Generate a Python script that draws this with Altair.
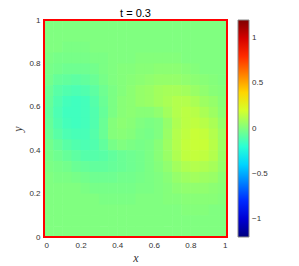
import altair as alt
import pandas as pd

# grid cell centres of the field
x_grid = [0.025, 0.075, 0.125, 0.175, 0.225, 0.275, 0.325, 0.375, 0.425, 0.475,
          0.525, 0.575, 0.625, 0.675, 0.725, 0.775, 0.825, 0.875, 0.925, 0.975]
y_grid = [0.975, 0.925, 0.875, 0.825, 0.775, 0.725, 0.675, 0.625, 0.575, 0.525,
          0.475, 0.425, 0.375, 0.325, 0.275, 0.225, 0.175, 0.125, 0.075, 0.025]

# field values in hundredths, rows from top (y=0.975) to bottom (y=0.025)
u_hundredths = [
    [0, 0, 0, 0, 0, 0, 0, 0, 0, 0, 0, 0, 0, 0, 0, 0, 0, 0, 0, 0],
    [0, 0, 0, 0, 0, 0, 0, 0, 0, 0, 0, 0, 0, 0, 0, 0, 0, 0, 0, 0],
    [0, 0, -1, -1, -1, 0, 0, 0, 0, 0, 0, 0, 0, 0, 0, 0, 0, 0, 0, 0],
    [-1, -2, -2, -2, -2, -1, -1, 0, 0, 0, 1, 1, 1, 1, 1, 0, 0, 0, 0, 0],
    [-2, -3, -4, -4, -4, -3, -1, 0, 1, 1, 2, 2, 3, 3, 3, 2, 1, 0, 0, 0],
    [-3, -6, -7, -8, -7, -5, -2, 0, 1, 2, 3, 4, 5, 5, 5, 4, 3, 2, 1, 0],
    [-5, -9, -11, -12, -11, -8, -4, -1, 1, 3, 5, 6, 8, 9, 9, 8, 6, 4, 2, 1],
    [-6, -11, -14, -15, -14, -10, -5, -1, 2, 3, 5, 6, 8, 10, 12, 12, 10, 7, 5, 2],
    [-7, -12, -15, -15, -14, -11, -6, -1, 2, 3, 2, 2, 4, 8, 12, 14, 13, 10, 7, 3],
    [-6, -11, -14, -15, -14, -11, -5, 1, 3, 2, 0, -1, 0, 5, 11, 14, 15, 13, 10, 5],
    [-5, -9, -12, -13, -13, -10, -5, 1, 2, 1, -1, -2, 0, 6, 12, 15, 17, 16, 12, 7],
    [-3, -6, -9, -11, -12, -11, -7, -2, 0, -1, -2, -1, 2, 7, 12, 16, 17, 17, 13, 7],
    [-2, -4, -6, -8, -10, -10, -9, -7, -5, -4, -3, -1, 2, 6, 11, 15, 16, 15, 12, 6],
    [-1, -2, -3, -5, -6, -7, -7, -6, -5, -4, -3, -1, 1, 4, 8, 11, 12, 11, 9, 5],
    [0, -1, -1, -2, -3, -4, -4, -4, -3, -3, -2, -1, 0, 2, 5, 7, 8, 7, 6, 3],
    [0, 0, 0, 0, -1, -2, -2, -2, -2, -2, -1, -1, 0, 1, 3, 4, 4, 4, 3, 2],
    [0, 0, 0, 0, 0, 0, -1, -1, -1, -1, 0, 0, 0, 1, 1, 2, 2, 2, 2, 1],
    [0, 0, 0, 0, 0, 0, 0, 0, 0, 0, 0, 0, 0, 0, 0, 1, 1, 1, 0, 0],
    [0, 0, 0, 0, 0, 0, 0, 0, 0, 0, 0, 0, 0, 0, 0, 0, 0, 0, 0, 0],
    [0, 0, 0, 0, 0, 0, 0, 0, 0, 0, 0, 0, 0, 0, 0, 0, 0, 0, 0, 0],
]

# the square domain whose boundary is drawn in red
domain_x = [0, 1]
domain_y = [0, 1]

axis_ticks = [0, 0.2, 0.4, 0.6, 0.8, 1]
cbar_ticks = [-1, -0.5, 0, 0.5, 1]
color_domain = [-1.2, -0.9, -0.3, 0.3, 0.9, 1.2]
jet_colors = ["#00007f", "#0000ff", "#00ffff", "#ffff00", "#ff0000", "#7f0000"]
title_text = "t = 0.3"
cell = 0.05

records = []
for j, yv in enumerate(y_grid):
    for i, xv in enumerate(x_grid):
        records.append({"x": xv, "y": yv, "u": u_hundredths[j][i] / 100.0})
df = pd.DataFrame(records)
border_df = pd.DataFrame({"x0": [domain_x[0]], "x1": [domain_x[1]],
                          "y0": [domain_y[0]], "y1": [domain_y[1]]})

half = cell / 2
overlap = 0.003  # tiny overlap so anti-aliased seams between cells disappear
jet = alt.Scale(domain=color_domain, range=jet_colors, interpolate="rgb")
pos_scale = alt.Scale(domain=domain_x, nice=False, zero=False, clamp=True)

axis_common = dict(
    values=axis_ticks, format="~g", ticks=False, domain=False, grid=False,
    labelOverlap=False, labelFont="Liberation Sans", labelFontSize=8,
    labelColor="#333333", labelPadding=4, titleFont="Liberation Serif",
    titleFontStyle="italic", titleFontWeight="normal", titleFontSize=12,
    titleColor="#333333",
)
x_axis = alt.Axis(title="x", titlePadding=3, **axis_common)
y_axis = alt.Axis(title="y", titlePadding=4, **axis_common)

field = alt.Chart(df).transform_calculate(
    x0=f"datum.x - {half}", x1=f"datum.x + {half + overlap}",
    y0=f"datum.y - {half + overlap}", y1=f"datum.y + {half}",
).mark_rect().encode(
    x=alt.X("x0:Q", scale=pos_scale, axis=x_axis),
    x2="x1:Q",
    y=alt.Y("y0:Q", scale=pos_scale, axis=y_axis),
    y2="y1:Q",
    color=alt.Color("u:Q", scale=jet, legend=alt.Legend(
        type="gradient", orient="none", legendX=194, legendY=0, values=cbar_ticks,
        format="~g", title=None, direction="vertical", gradientLength=217,
        gradientThickness=11, gradientStrokeColor="#888888", gradientStrokeWidth=1,
        padding=0, labelFont="Liberation Sans", labelFontSize=8,
        labelColor="#333333", labelOffset=3,
    )),
)

border = alt.Chart(border_df).mark_rect(
    fillOpacity=0, stroke="#ff0000", strokeWidth=2
).encode(
    x=alt.X("x0:Q", scale=pos_scale, axis=x_axis),
    x2="x1:Q",
    y=alt.Y("y0:Q", scale=pos_scale, axis=y_axis),
    y2="y1:Q",
)

chart = alt.layer(field, border).properties(
    width=183, height=217,
    title=alt.TitleParams(text=title_text, font="Liberation Sans", fontSize=11,
                          fontWeight="normal", color="black", offset=-3, anchor="middle"),
    autosize=alt.AutoSizeParams(type="none"),
    padding={"left": 36, "top": 12, "right": 50, "bottom": 27},
).configure_view(strokeWidth=0)

chart.save("out.html", embed_options={"renderer": "svg", "actions": False})
